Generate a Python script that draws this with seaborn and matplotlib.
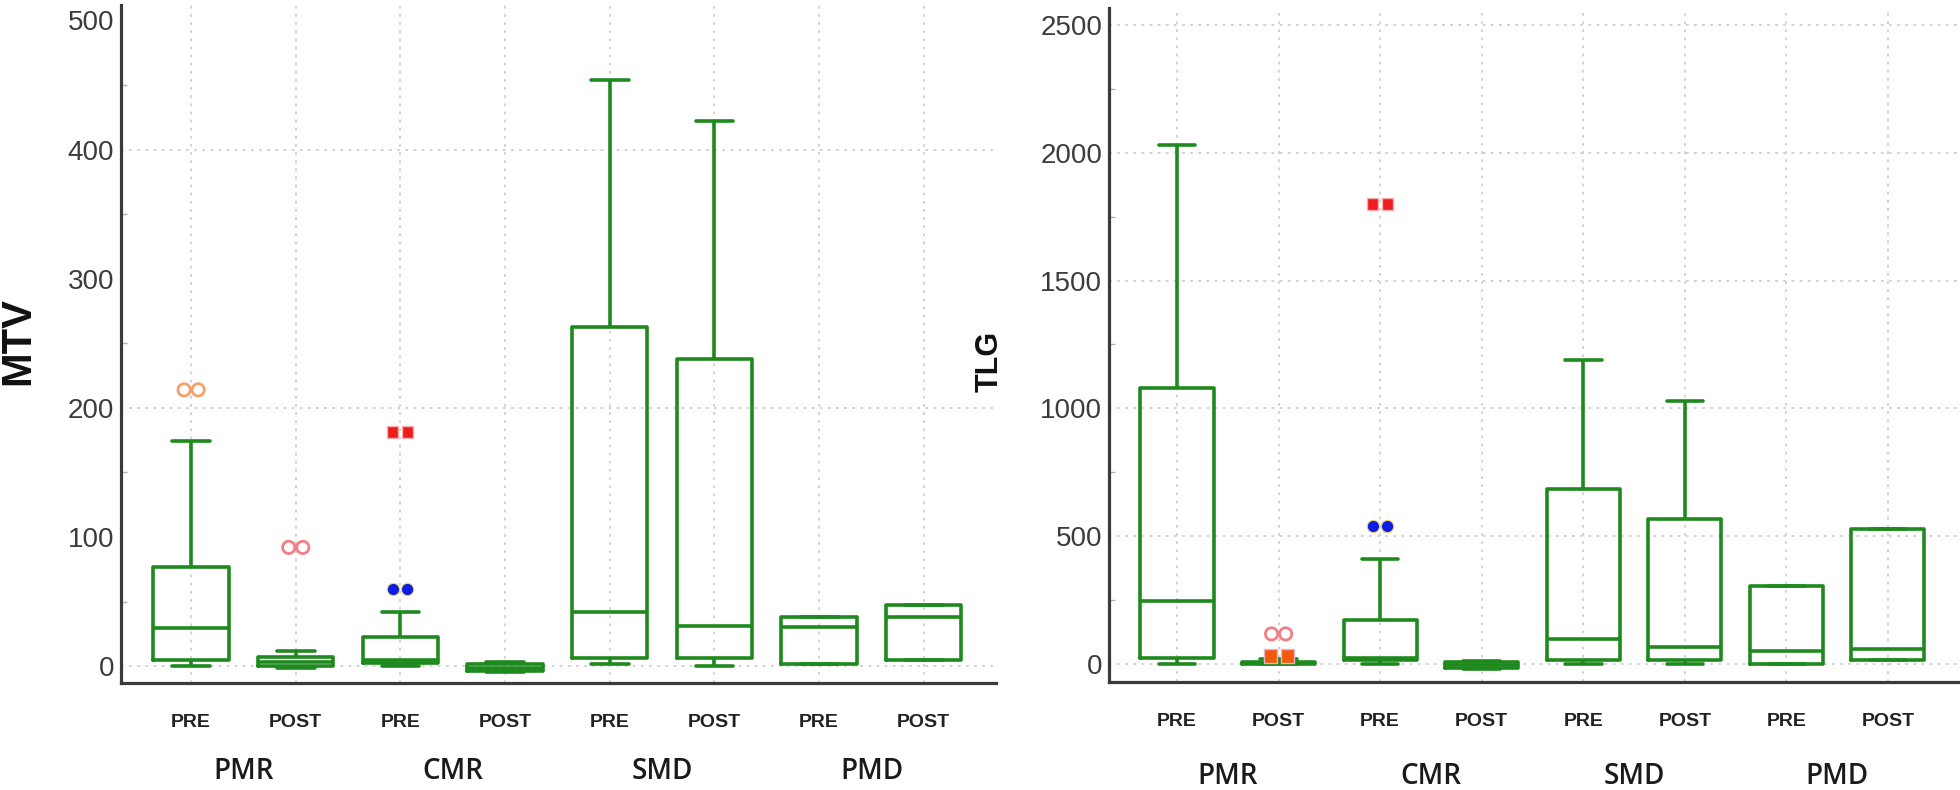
import numpy as np
import pandas as pd
import matplotlib
matplotlib.use("Agg")
import matplotlib.pyplot as plt
import seaborn as sns
from matplotlib.path import Path
from matplotlib.transforms import Affine2D
from matplotlib.ticker import MultipleLocator

# ---------------- data ----------------
groups = ["PMR", "CMR", "SMD", "PMD"]
phases = ["PRE", "POST"]
categories = [f"{g} {p}" for g in groups for p in phases]
tick_labels = [p for g in groups for p in phases]

# MTV five-number summaries (whisker low, Q1, median, Q3, whisker high)
mtv_low = [0.5, -1, 0, -4.5, 2, 0, 2, 4.7]
mtv_q1 = [5, 0, 2.5, -4, 6, 6, 2, 4.7]
mtv_med = [29.5, 3.5, 5, -1, 42, 31, 30, 38]
mtv_q3 = [77, 7, 22.5, 2, 262.5, 238, 38, 47.5]
mtv_high = [174.5, 12, 42, 3, 454, 422, 38, 47.5]

# TLG five-number summaries
tlg_low = [0, 0, 0, -20, 0, 0, 0, 16]
tlg_q1 = [25, 0, 16, -15, 16, 16, 0, 16]
tlg_med = [248, 4, 25, -5, 100, 65, 51, 61]
tlg_q3 = [1078, 10, 173, 8, 684, 566, 307, 527]
tlg_high = [2032, 20, 413, 12, 1188, 1029, 307, 527]

# outliers
mtv_out_cat = ["PMR PRE", "PMR POST", "CMR PRE", "CMR PRE"]
mtv_out_val = [214, 92, 181, 59.5]
mtv_out_kind = ["orange_open", "pink_open", "red_square", "blue_dot"]

tlg_out_cat = ["PMR POST", "PMR POST", "CMR PRE", "CMR PRE"]
tlg_out_val = [118, 30, 1800, 541]
tlg_out_kind = ["pink_open", "orange_square", "red_square", "blue_dot"]

# ---------------- style ----------------
GREEN = "#1e8a1e"
AX_COL = "#3a3a3a"
GRID_COL = "#cfcfcf"

sns.set_style("white")
plt.rcParams["font.family"] = ["Liberation Sans", "DejaVu Sans"]


def pair_path(shape):
    if shape == "circle":
        a = Path.circle((-1.15, 0), 1.0)
        b = Path.circle((1.15, 0), 1.0)
    else:
        sq = Path.unit_rectangle().transformed(Affine2D().translate(-0.5, -0.5).scale(1.8))
        a = sq.transformed(Affine2D().translate(-1.15, 0))
        b = sq.transformed(Affine2D().translate(1.15, 0))
    return Path.make_compound_path(a, b)


CIRC2 = pair_path("circle")
SQ2 = pair_path("square")

kind_style = {
    "orange_open": dict(marker=CIRC2, fc="none", ec="#f4a06a", lw=2.0, size=19),
    "pink_open": dict(marker=CIRC2, fc="none", ec="#f27f86", lw=2.0, size=19),
    "red_square": dict(marker=SQ2, fc="#ee1c1c", ec="#f9b0b0", lw=1.0, size=19),
    "blue_dot": dict(marker=CIRC2, fc="#0a1ee6", ec="#f0d070", lw=0.8, size=19),
    "orange_square": dict(marker=SQ2, fc="#f05a0a", ec="#e8b0d0", lw=1.0, size=22),
}


def long_frame(lo, q1, med, q3, hi):
    rows = []
    for i, c in enumerate(categories):
        for v in (lo[i], q1[i], med[i], q3[i], hi[i]):
            rows.append((c, v))
    return pd.DataFrame(rows, columns=["category", "value"])


def draw(ax, df, out_cat, out_val, out_kind, ylim, major, grid_every, ylabel_pad):
    sns.boxplot(data=df, x="category", y="value", order=categories, fill=False,
                color=GREEN, linewidth=2.6, width=0.72, whis=(0, 100),
                showfliers=False, ax=ax)
    odf = pd.DataFrame({"category": out_cat, "value": out_val, "kind": out_kind})
    for kind, sub in odf.groupby("kind"):
        st = kind_style[kind]
        n_before = len(ax.collections)
        sns.stripplot(data=sub, x="category", y="value", order=categories,
                      jitter=False, marker=st["marker"], size=st["size"],
                      color=st["ec"], ax=ax, zorder=5)
        for coll in ax.collections[n_before:]:
            coll.set_facecolor(st["fc"])
            coll.set_edgecolor(st["ec"])
            coll.set_linewidth(st["lw"])

    ax.set_xlim(-0.67, 7.69)
    ax.set_ylim(*ylim)
    ax.set_xlabel("")
    ax.set_ylabel("")
    ax.set_xticks(range(len(categories)))
    ax.set_xticklabels(tick_labels, fontsize=14, fontweight="bold", color="#222222")
    ax.yaxis.set_major_locator(MultipleLocator(major))
    ax.yaxis.set_minor_locator(MultipleLocator(major / 2))
    for lab in ax.get_yticklabels():
        lab.set_fontsize(20)
        lab.set_color("#3c3c3c")

    sns.despine(ax=ax)
    for s in ("left", "bottom"):
        ax.spines[s].set_linewidth(2.3)
        ax.spines[s].set_color(AX_COL)

    ax.tick_params(axis="x", direction="in", length=12, width=2.2, color=AX_COL, pad=22)
    ax.tick_params(axis="y", which="major", direction="in", length=11, width=2.2,
                   color=AX_COL, pad=5)
    ax.tick_params(axis="y", which="minor", direction="in", length=4, width=1,
                   color="#b0b0b0", left=True)

    ax.grid(True, axis="both", which="major", linestyle=(0, (1.5, 3)),
            color=GRID_COL, linewidth=1.3)
    ax.set_axisbelow(True)
    ticks = ax.get_yticks()
    for t, gl in zip(ticks, ax.get_ygridlines()):
        if round(t) % grid_every != 0:
            gl.set_visible(False)

    for gi, g in enumerate(groups):
        xc = (categories.index(f"{g} PRE") + categories.index(f"{g} POST")) / 2
        ax.annotate(g, xy=(xc, 0), xycoords=("data", "axes fraction"),
                    xytext=(0, -ylabel_pad), textcoords="offset points",
                    ha="center", va="center", fontsize=20,
                    fontfamily=["Open Sans", "DejaVu Sans"], fontweight="semibold",
                    color="#1a1a1a", annotation_clip=False)


fig = plt.figure(figsize=(19.6, 7.9), dpi=100)
ax1 = fig.add_axes([121 / 1960, 107 / 790, (996 - 121) / 1960, (683 - 5) / 790])
ax2 = fig.add_axes([1109 / 1960, 108 / 790, (1958 - 1109) / 1960, (682 - 8) / 790])

draw(ax1, long_frame(mtv_low, mtv_q1, mtv_med, mtv_q3, mtv_high),
     mtv_out_cat, mtv_out_val, mtv_out_kind, (-13, 512), 100, 200, 64)
draw(ax2, long_frame(tlg_low, tlg_q1, tlg_med, tlg_q3, tlg_high),
     tlg_out_cat, tlg_out_val, tlg_out_kind, (-70, 2566), 500, 500, 68)

fig.text(18 / 1960, 1 - 341 / 790, "MTV", rotation=90, ha="center", va="center",
         fontsize=30, fontweight="bold", color="#111111")
fig.text(990 / 1960, 1 - 361 / 790, "TLG", rotation=90, ha="center", va="center",
         fontsize=22, fontweight="bold", color="#111111")

fig.savefig("out.png", dpi=100, facecolor="white")
